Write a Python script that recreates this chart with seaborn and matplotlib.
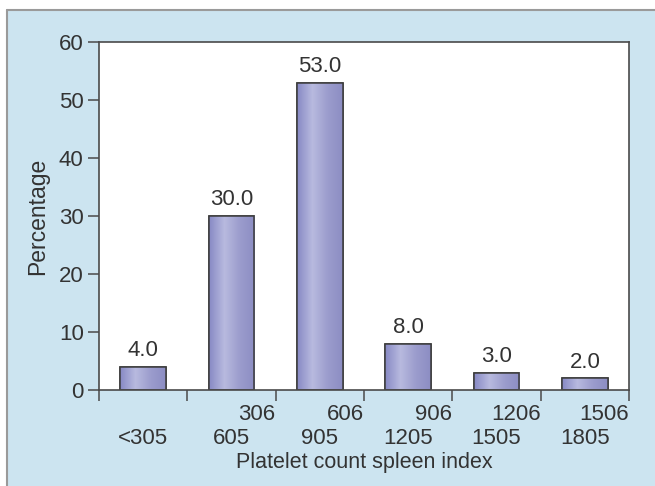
#plot.py

import pandas as pd
import numpy as np
import matplotlib.pyplot as plt
import seaborn as sns
from matplotlib.patches import Rectangle
from matplotlib.colors import LinearSegmentedColormap


range_low = ["", "306", "606", "906", "1206", "1506"]
range_high = ["<305", "605", "905", "1205", "1505", "1805"]
percentages = [4.0, 30.0, 53.0, 8.0, 3.0, 2.0]

W, H = 655, 486
panel_blue = "#cce4f0"
text_col = "#333333"
line_col = "#4a4a4a"
num_size = 16
lab_size = 15.5


def px_x(x):
    return x / W


def px_y(y):
    # pixel from top -> figure fraction from bottom
    return 1 - y / H


def add_gradient(ax, patch, cmap):
    x0, y0 = patch.get_x(), patch.get_y()
    w, h = patch.get_width(), patch.get_height()
    grad = np.linspace(0, 1, 64).reshape(1, -1)
    im = ax.imshow(grad, extent=[x0, x0 + w, y0, y0 + h], aspect="auto",
                   cmap=cmap, origin="lower", zorder=patch.get_zorder() + 0.1)
    im.set_clip_path(patch)
    # redraw the outline on top
    ax.add_patch(Rectangle((x0, y0), w, h, fill=False, edgecolor="#3c3c3c",
                           linewidth=1.1, zorder=patch.get_zorder() + 0.2))


def main():
    sns.set_style("white")
    plt.rcParams["font.family"] = ["Liberation Sans", "DejaVu Sans"]

    df = pd.DataFrame({"group": range_high, "pct": percentages})

    fig = plt.figure(figsize=(W / 100, H / 100), dpi=100, facecolor="white")

    # light blue panel with grey line on top/left
    fig.add_artist(Rectangle((px_x(7), 0), 1 - px_x(7), px_y(10),
                             transform=fig.transFigure, facecolor=panel_blue,
                             edgecolor="none", zorder=-10))
    fig.add_artist(plt.Line2D([px_x(7), 1], [px_y(10), px_y(10)],
                              transform=fig.transFigure, color="#9a9a9a", lw=1.5,
                              zorder=-9))
    fig.add_artist(plt.Line2D([px_x(7), px_x(7)], [0, px_y(10)],
                              transform=fig.transFigure, color="#9a9a9a", lw=1.5,
                              zorder=-9))

    ax = fig.add_axes([px_x(99), px_y(390), px_x(629 - 99), (390 - 42) / H])
    ax.set_zorder(5)
    ax.set_facecolor("white")

    sns.barplot(data=df, x="group", y="pct", color="#a0a2d2", width=0.52,
                edgecolor="#3c3c3c", linewidth=1.1, ax=ax)

    cmap = LinearSegmentedColormap.from_list(
        "bar", ["#888ac5", "#b8badf", "#9c9dcd", "#8c8dc3"])
    for p in list(ax.patches):
        add_gradient(ax, p, cmap)

    ax.bar_label(ax.containers[0], fmt="%.1f", padding=4, fontsize=num_size,
                 color=text_col)

    ax.set_xlim(-0.5, len(percentages) - 0.5)
    ax.set_ylim(0, 60)
    ax.set_yticks(np.arange(0, 61, 10))
    ax.tick_params(axis="y", labelsize=num_size, labelcolor=text_col, length=8,
                   width=1.1, color=line_col, direction="out", left=True, pad=3)

    # second line of labels at bar centres, first line at category boundaries
    ax.set_xticks(range(len(range_high)))
    ax.set_xticklabels(range_high)
    ax.tick_params(axis="x", which="major", length=0, pad=27, labelsize=num_size,
                   labelcolor=text_col)
    ax.set_xticks(np.arange(-0.5, len(range_high)), minor=True)
    ax.set_xticklabels([""] + range_low, minor=True, ha="right")
    ax.tick_params(axis="x", which="minor", length=8, width=1.1, color=line_col,
                   direction="out", bottom=True, pad=2, labelsize=num_size,
                   labelcolor=text_col)

    for s in ax.spines.values():
        s.set_color(line_col)
        s.set_linewidth(1.2)
        s.set_visible(True)

    ax.set_xlabel("Platelet count spleen index", fontsize=lab_size, color=text_col)
    ax.xaxis.set_label_coords(0.5, -(462 - 390) / 348)
    ax.xaxis.label.set_va("center")
    ax.set_ylabel("Percentage", fontsize=16.5, color=text_col)
    ax.yaxis.set_label_coords((38 - 99) / 530, 0.5)
    ax.yaxis.label.set_va("center")

    fig.savefig("out.png", dpi=100, facecolor=fig.get_facecolor())
    plt.close(fig)


if __name__ == "__main__":
    main()
